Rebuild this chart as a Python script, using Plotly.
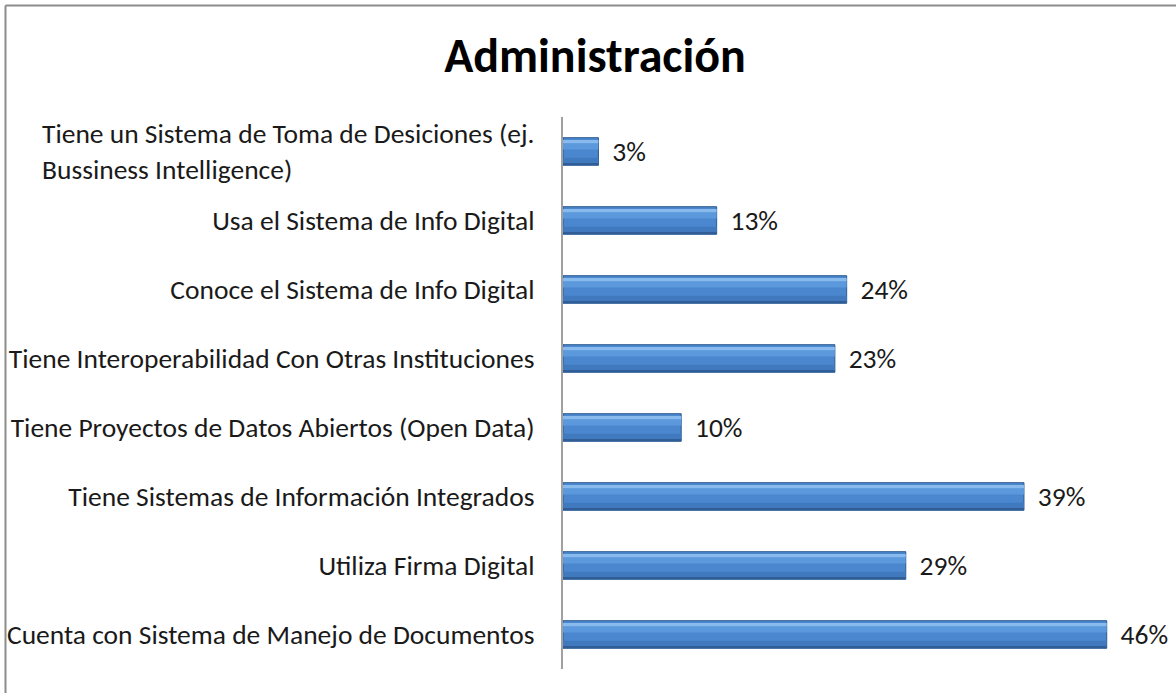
import plotly.graph_objects as go

# data, bottom to top as drawn
categorias = [
    'Cuenta con Sistema de Manejo de Documentos',
    'Utiliza Firma Digital',
    'Tiene Sistemas de Información Integrados',
    'Tiene Proyectos de Datos Abiertos (Open Data)',
    'Tiene Interoperabilidad Con Otras Instituciones',
    'Conoce el Sistema de Info Digital',
    'Usa el Sistema de Info Digital',
    'Tiene un Sistema de Toma de Desiciones (ej.<br>Bussiness Intelligence)',
]
valores = [46, 29, 39, 10, 23, 24, 13, 3]
etiquetas = ['\u00a0\u2006' + str(v) + '%' for v in valores]

W, H = 1176, 693
ml, mr, mt, mb = 563, 22, 117, 24
pw, ph = W - ml - mr, H - mt - mb

pos = list(range(len(categorias)))
font = 'Carlito, Calibri, Lato, sans-serif'
fs = 27.5

fig = go.Figure()
# main bar
fig.add_trace(go.Bar(
    y=pos, x=valores, orientation='h', width=0.4,
    marker=dict(color='#4a87cf', line=dict(color='#2c5a8f', width=1)),
    text=etiquetas, textposition='outside', cliponaxis=False,
    constraintext='none',
    textfont=dict(size=fs, color='#1a1a1a', family=font),
    hoverinfo='skip', showlegend=False,
))
# bevel: bands over the main bar
bandas = [
    (0.03, 0.09, '#5c98dc'),
    (0.12, 0.045, '#88baee'),
    (-0.2, 0.11, '#4079bd'),
    (-0.195, 0.03, '#305d95'),
]
for off, wd, col in bandas:
    fig.add_trace(go.Bar(
        y=pos, x=valores, orientation='h', width=wd, offset=off,
        marker=dict(color=col, line=dict(width=0)),
        hoverinfo='skip', showlegend=False,
    ))

ticks = list(categorias)
ticks[-1] = ''
fig.update_yaxes(
    tickvals=pos, ticktext=ticks, range=[-0.5, len(pos) - 0.5],
    showline=True, linecolor='#a0a0a0', linewidth=2, ticks='',
    showgrid=False, zeroline=False, ticklabelstandoff=21, automargin=False,
    tickfont=dict(size=fs, color='#1a1a1a', family=font),
)
fig.update_xaxes(range=[0, 50], visible=False, automargin=False)

# the wrapped first label is left-aligned in the original
fig.add_annotation(
    x=0, y=pos[-1], xref='paper', yref='y', xanchor='right', yanchor='middle',
    xshift=-27, text=categorias[-1], showarrow=False, align='left',
    font=dict(size=fs, color='#1a1a1a', family=font),
)

# chart frame (top and left edges)
fig.add_shape(type='line', xref='paper', yref='paper',
              x0=(5.5 - ml) / pw, x1=(W - ml) / pw,
              y0=(H - mb - 5.5) / ph, y1=(H - mb - 5.5) / ph,
              line=dict(color='#8c8c8c', width=2))
fig.add_shape(type='line', xref='paper', yref='paper',
              x0=(5.5 - ml) / pw, x1=(5.5 - ml) / pw,
              y0=(H - mb - 5.5) / ph, y1=-mb / ph,
              line=dict(color='#8c8c8c', width=2))

fig.update_layout(
    width=W, height=H, barmode='overlay',
    margin=dict(l=ml, r=mr, t=mt, b=mb, autoexpand=False),
    paper_bgcolor='white', plot_bgcolor='white',
    title=dict(text='<b>Administración</b>', x=595 / W, xanchor='center',
               y=1 - 55 / H, yanchor='middle',
               font=dict(size=48, color='#000000', family=font)),
)

fig.write_html('out.html', config={'displayModeBar': False},
               post_script="document.body.style.margin='0';")
